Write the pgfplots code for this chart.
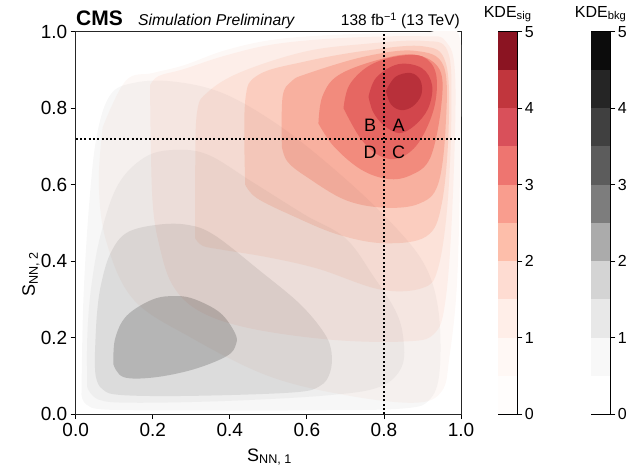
\documentclass[border=0pt]{standalone}
\usepackage{pgfplots}
\pgfplotsset{compat=1.18}
\usepackage{fontspec}
\setmainfont{Liberation Sans}

% signal contour fills (as seen on white)
\definecolor{rA}{HTML}{FDF8F6}
\definecolor{rB}{HTML}{FDEEE9}
\definecolor{rC}{HTML}{FCE2D9}
\definecolor{rD}{HTML}{FBCDBF}
\definecolor{rE}{HTML}{F8B09F}
\definecolor{rF}{HTML}{F28B7D}
\definecolor{rG}{HTML}{E66762}
\definecolor{rH}{HTML}{D2464C}
\definecolor{rI}{HTML}{B8303A}
% background fills: multiplied, nested, so each is the step from the one below
% (F7, EE, DC, B4 once stacked)
\definecolor{gA}{HTML}{F7F7F7}
\definecolor{gB}{HTML}{F6F6F6}
\definecolor{gC}{HTML}{ECECEC}
\definecolor{gD}{HTML}{D2D2D2}
% colorbar bins
\definecolor{s0}{HTML}{FFFDFC}
\definecolor{s1}{HTML}{FFF8F5}
\definecolor{s2}{HTML}{FFEEE8}
\definecolor{s3}{HTML}{FEDCD2}
\definecolor{s4}{HTML}{FDBEAA}
\definecolor{s5}{HTML}{F99D8E}
\definecolor{s6}{HTML}{EE7570}
\definecolor{s7}{HTML}{D9505A}
\definecolor{s8}{HTML}{C1363D}
\definecolor{s9}{HTML}{8B1422}
\definecolor{k0}{HTML}{FFFFFF}
\definecolor{k1}{HTML}{F8F8F8}
\definecolor{k2}{HTML}{E8E8E8}
\definecolor{k3}{HTML}{D4D4D4}
\definecolor{k4}{HTML}{ABABAB}
\definecolor{k5}{HTML}{7D7D7D}
\definecolor{k6}{HTML}{5C5C5C}
\definecolor{k7}{HTML}{404040}
\definecolor{k8}{HTML}{252525}
\definecolor{k9}{HTML}{0C0C0C}

\pgfplotsset{
  base/.style={
    scale only axis, width=385.3pt, height=382.5pt,
    xmin=0, xmax=1, ymin=0, ymax=1,
    at={(75.7pt,52.8pt)}, anchor=south west,
  },
  lvl/.style={draw=none, fill=#1, smooth, tension=0.6, mark=none},
  cbar/.style={
    scale only axis, width=19.3pt, height=382.5pt,
    xmin=0, xmax=1, ymin=0, ymax=5,
    xtick=\empty, ytick={0,1,2,3,4,5},
    ytick pos=right, yticklabel pos=right,
    tick align=outside, major tick length=5pt,
    every tick/.style={black, line width=0.8pt},
    axis line style={line width=0.8pt, black},
    yticklabel style={font=\fontsize{16}{19}\selectfont, xshift=-1pt},
    /pgf/number format/assume math mode=true,
    title style={font=\fontsize{16}{19}\selectfont},
  },
  bin/.style={draw=none, fill=#1, mark=none},
}

\begin{document}
\begin{tikzpicture}

% signal KDE + frame
\begin{axis}[base,
  xtick={0,0.2,0.4,0.6,0.8,1}, ytick={0,0.2,0.4,0.6,0.8,1},
  tick pos=left, tick align=outside, major tick length=5pt,
  every tick/.style={black, line width=0.8pt},
  axis line style={line width=0.8pt, black!85},
  tick label style={font=\fontsize{19}{22}\selectfont},
  /pgf/number format/fixed, /pgf/number format/fixed zerofill,
  /pgf/number format/precision=1,
  /pgf/number format/assume math mode=true,
]
\addplot[lvl=rA] coordinates {
  (0.07,0.75) (0.13,0.872) (0.2,0.892) (0.28,0.912) (0.39,0.952)
  (0.52,0.98) (0.7,0.993) (0.9,0.997) (0.995,0.99) (0.998,0.7)
  (0.99,0.35) (0.97,0.15) (0.95,0.06) (0.88,0.03) (0.7,0.05)
  (0.5,0.1) (0.3,0.2) (0.15,0.3) (0.08,0.45) (0.06,0.6) (0.07,0.75)
};
\addplot[lvl=rB] coordinates {
  (0.193,0.86) (0.195,0.7) (0.2,0.55) (0.215,0.45) (0.25,0.34)
  (0.32,0.27) (0.45,0.225) (0.66,0.195) (0.85,0.19) (0.93,0.21)
  (0.96,0.3) (0.978,0.55) (0.985,0.88) (0.96,0.975) (0.9,0.988)
  (0.7,0.984) (0.52,0.968) (0.39,0.938) (0.28,0.902) (0.215,0.884) (0.193,0.86)
};
\addplot[lvl=rC] coordinates {
  (0.31,0.46) (0.31,0.62) (0.315,0.79) (0.344,0.843) (0.43,0.895)
  (0.595,0.948) (0.75,0.968) (0.9,0.976) (0.965,0.95) (0.975,0.8)
  (0.965,0.55) (0.94,0.38) (0.9,0.33) (0.79,0.326) (0.63,0.38)
  (0.5,0.41) (0.38,0.43) (0.33,0.44) (0.31,0.46)
};
\addplot[lvl=rD] coordinates {
  (0.44,0.6) (0.44,0.82) (0.474,0.887) (0.595,0.922) (0.75,0.95)
  (0.9,0.962) (0.96,0.92) (0.968,0.75) (0.95,0.55) (0.91,0.465)
  (0.8,0.447) (0.68,0.47) (0.56,0.52) (0.47,0.565) (0.44,0.6)
};
\addplot[lvl=rE] coordinates {
  (0.535,0.7) (0.537,0.83) (0.56,0.87) (0.6,0.89) (0.75,0.935)
  (0.88,0.95) (0.955,0.91) (0.96,0.75) (0.94,0.6) (0.89,0.55)
  (0.8,0.54) (0.7,0.56) (0.6,0.62) (0.55,0.66) (0.535,0.7)
};
\addplot[lvl=rF] coordinates {
  (0.63,0.76) (0.64,0.83) (0.68,0.885) (0.78,0.925) (0.88,0.94)
  (0.945,0.9) (0.948,0.8) (0.92,0.67) (0.87,0.625) (0.81,0.615)
  (0.74,0.64) (0.67,0.7) (0.63,0.76)
};
\addplot[lvl=rG] coordinates {
  (0.695,0.8) (0.71,0.86) (0.76,0.91) (0.83,0.935) (0.9,0.935)
  (0.935,0.89) (0.93,0.8) (0.89,0.71) (0.84,0.67) (0.79,0.675)
  (0.74,0.72) (0.695,0.8)
};
\addplot[lvl=rH] coordinates {
  (0.76,0.83) (0.78,0.88) (0.837,0.915) (0.898,0.905) (0.925,0.86)
  (0.915,0.8) (0.88,0.755) (0.84,0.735) (0.8,0.755) (0.772,0.79) (0.76,0.83)
};
\addplot[lvl=rI] coordinates {
  (0.805,0.845) (0.83,0.882) (0.87,0.892) (0.895,0.872) (0.897,0.835)
  (0.875,0.805) (0.845,0.795) (0.818,0.81) (0.805,0.845)
};
\end{axis}

% background KDE, multiplied over the signal
\begin{scope}[blend mode=multiply]
\begin{axis}[base, hide axis]
\addplot[lvl=gA] coordinates {
  (0.015,0.05) (0.02,0.3) (0.035,0.55) (0.055,0.73) (0.09,0.835)
  (0.15,0.866) (0.25,0.87) (0.38,0.84) (0.52,0.76) (0.66,0.65)
  (0.8,0.52) (0.9,0.4) (0.94,0.28) (0.945,0.12) (0.92,0.04)
  (0.85,0.015) (0.6,0.01) (0.3,0.01) (0.08,0.012) (0.028,0.025) (0.015,0.05)
};
\addplot[lvl=gB] coordinates {
  (0.03,0.07) (0.03,0.2) (0.04,0.33) (0.065,0.47) (0.11,0.6)
  (0.18,0.672) (0.258,0.691) (0.344,0.678) (0.457,0.608) (0.595,0.521)
  (0.7,0.46) (0.773,0.36) (0.83,0.27) (0.85,0.2) (0.846,0.124)
  (0.79,0.072) (0.66,0.05) (0.4,0.035) (0.15,0.03) (0.06,0.038) (0.03,0.07)
};
\addplot[lvl=gC] coordinates {
  (0.05,0.16) (0.055,0.26) (0.066,0.34) (0.09,0.42) (0.132,0.474)
  (0.21,0.495) (0.29,0.495) (0.36,0.468) (0.478,0.375) (0.582,0.288)
  (0.645,0.212) (0.664,0.161) (0.66,0.109) (0.634,0.074) (0.565,0.057)
  (0.305,0.048) (0.12,0.05) (0.07,0.065) (0.052,0.1) (0.05,0.16)
};
\addplot[lvl=gD] coordinates {
  (0.098,0.13) (0.102,0.196) (0.132,0.257) (0.2,0.3) (0.26,0.309)
  (0.31,0.3) (0.375,0.265) (0.413,0.213) (0.416,0.183) (0.392,0.152)
  (0.305,0.117) (0.202,0.096) (0.124,0.097) (0.098,0.13)
};
\end{axis}
\end{scope}

% cut lines and region letters on top
\begin{axis}[base, hide axis]
\addplot[black, line width=2pt, dash pattern=on 2pt off 2.3pt, mark=none]
  coordinates {(0.8,0) (0.8,1)};
\addplot[black, line width=2pt, dash pattern=on 2pt off 2.3pt, mark=none]
  coordinates {(0,0.72) (1,0.72)};
\node[font=\fontsize{18}{21}\selectfont] at (0.764,0.756) {B};
\node[font=\fontsize{18}{21}\selectfont] at (0.838,0.756) {A};
\node[font=\fontsize{18}{21}\selectfont] at (0.764,0.684) {D};
\node[font=\fontsize{18}{21}\selectfont] at (0.838,0.684) {C};
\end{axis}

% colour bars
\begin{axis}[cbar, at={(498pt,52.8pt)}, anchor=south west,
  title={KDE\textsubscript{sig}}]
\addplot[bin=s0] coordinates {(0,0) (1,0) (1,0.5) (0,0.5)};
\addplot[bin=s1] coordinates {(0,0.5) (1,0.5) (1,1) (0,1)};
\addplot[bin=s2] coordinates {(0,1) (1,1) (1,1.5) (0,1.5)};
\addplot[bin=s3] coordinates {(0,1.5) (1,1.5) (1,2) (0,2)};
\addplot[bin=s4] coordinates {(0,2) (1,2) (1,2.5) (0,2.5)};
\addplot[bin=s5] coordinates {(0,2.5) (1,2.5) (1,3) (0,3)};
\addplot[bin=s6] coordinates {(0,3) (1,3) (1,3.5) (0,3.5)};
\addplot[bin=s7] coordinates {(0,3.5) (1,3.5) (1,4) (0,4)};
\addplot[bin=s8] coordinates {(0,4) (1,4) (1,4.5) (0,4.5)};
\addplot[bin=s9] coordinates {(0,4.5) (1,4.5) (1,5) (0,5)};
\end{axis}
\begin{axis}[cbar, at={(591pt,52.8pt)}, anchor=south west,
  title={KDE\textsubscript{bkg}}]
\addplot[bin=k0] coordinates {(0,0) (1,0) (1,0.5) (0,0.5)};
\addplot[bin=k1] coordinates {(0,0.5) (1,0.5) (1,1) (0,1)};
\addplot[bin=k2] coordinates {(0,1) (1,1) (1,1.5) (0,1.5)};
\addplot[bin=k3] coordinates {(0,1.5) (1,1.5) (1,2) (0,2)};
\addplot[bin=k4] coordinates {(0,2) (1,2) (1,2.5) (0,2.5)};
\addplot[bin=k5] coordinates {(0,2.5) (1,2.5) (1,3) (0,3)};
\addplot[bin=k6] coordinates {(0,3) (1,3) (1,3.5) (0,3.5)};
\addplot[bin=k7] coordinates {(0,3.5) (1,3.5) (1,4) (0,4)};
\addplot[bin=k8] coordinates {(0,4) (1,4) (1,4.5) (0,4.5)};
\addplot[bin=k9] coordinates {(0,4.5) (1,4.5) (1,5) (0,5)};
\end{axis}

% header and axis titles
\node[anchor=base west, inner sep=0, font=\fontsize{21}{24}\selectfont\bfseries]
  at (76pt,441pt) {CMS};
\node[anchor=base west, inner sep=0, font=\fontsize{15.7}{18}\selectfont\itshape]
  at (138pt,441pt) {Simulation Preliminary};
\node[anchor=base east, inner sep=0, font=\fontsize{15.5}{18}\selectfont]
  at (460pt,441pt) {138 fb\textsuperscript{−1} (13 TeV)};
\node[anchor=base west, inner sep=0, font=\fontsize{18}{21}\selectfont]
  at (247pt,6pt) {S\textsubscript{NN, 1}};
\node[anchor=base west, inner sep=0, rotate=90, font=\fontsize{18}{21}\selectfont]
  at (35pt,170pt) {S\textsubscript{NN, 2}};

\pgfresetboundingbox
\path (0pt,0pt) rectangle (635pt,467pt);
\end{tikzpicture}
\end{document}
